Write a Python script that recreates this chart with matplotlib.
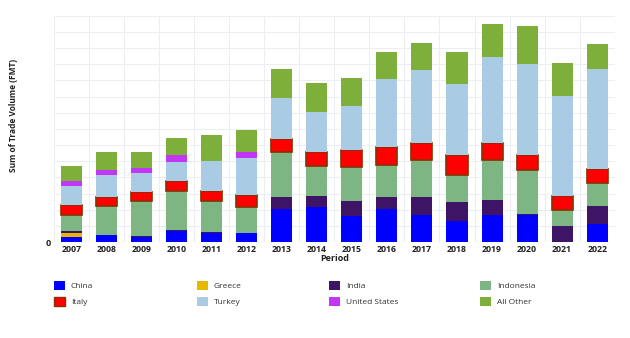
import numpy as np
import matplotlib.pyplot as plt
from matplotlib.patches import Patch

plt.rcParams['font.family'] = ['Open Sans', 'DejaVu Sans']

years = [str(y) for y in range(2007, 2023)]

china = [2.9, 4.1, 3.1, 7.0, 5.6, 5.4, 20.6, 21.6, 16.3, 20.6, 16.7, 12.8, 16.9, 16.9, 0.0, 11.3]
greece = [2.7, 0, 0, 0, 0, 0, 0, 0, 0, 0, 0, 0, 0, 0, 0, 0]
india = [1.0, 0.4, 0.5, 0.3, 0.4, 0.3, 7.2, 6.6, 8.9, 7.2, 10.9, 11.8, 9.1, 0.5, 10.1, 11.1]
indonesia = [10.3, 18.0, 21.6, 24.0, 19.2, 16.1, 28.2, 18.6, 21.0, 19.6, 22.9, 16.7, 24.7, 27.4, 9.9, 14.0]
italy = [6.2, 5.6, 6.0, 6.2, 6.4, 7.2, 7.8, 8.9, 10.5, 11.3, 11.1, 12.4, 10.5, 9.3, 8.2, 8.9]
turkey = [11.3, 13.4, 11.5, 12.2, 18.4, 22.9, 25.2, 24.5, 27.2, 42.3, 44.7, 44.3, 53.2, 55.9, 61.9, 61.6]
united_states = [3.1, 3.1, 3.3, 4.1, 0, 3.9, 0, 0, 0, 0, 0, 0, 0, 0, 0, 0]
all_other = [9.3, 11.1, 9.7, 10.3, 16.3, 13.4, 18.1, 18.1, 17.5, 16.9, 17.1, 19.4, 20.4, 23.5, 21.0, 15.5]

names = ['China', 'Greece', 'India', 'Indonesia', 'Italy', 'Turkey', 'United States', 'All Other']
series = [china, greece, india, indonesia, italy, turkey, united_states, all_other]
colors = ['#0000FF', '#E8B800', '#3D1466', '#7DB583', '#FF0000', '#A9CCE4', '#C236F5', '#7DAF3A']
edges = [None, None, None, None, '#8A3000', None, None, None]

fig = plt.figure(figsize=(6.3, 3.38), dpi=100)
ax = fig.add_axes([0.0857, 0.284, 0.890, 0.669])

x = np.arange(len(years))
bottom = np.zeros(len(years))
handles = []
for name, vals, col, ec in zip(names, series, colors, edges):
    vals = np.array(vals, dtype=float)
    if ec:
        ax.bar(x, vals, 0.6, bottom=bottom, color=col, edgecolor=ec, linewidth=1.2, zorder=3)
    else:
        ax.bar(x, vals, 0.6, bottom=bottom, color=col, linewidth=0, zorder=3)
    bottom += vals
    handles.append(Patch(facecolor=col, edgecolor=ec if ec else col, linewidth=1.0 if ec else 0))

ax.set_xlim(-0.5, len(years) - 0.5)
ax.set_ylim(0, 140)
ax.set_yticks(np.arange(0, 141, 10))
ax.set_yticklabels(['0'] + [''] * 14, fontsize=6.5, fontweight='bold')
ax.set_xticks(x)
ax.set_xticklabels(years, fontsize=6.3, fontweight='bold')
ax.set_xticks(np.arange(-0.5, len(years), 1), minor=True)
ax.tick_params(axis='both', which='both', length=0, pad=2.5, colors='#222222')
ax.grid(axis='y', color='#ECEEF3', linewidth=0.8, zorder=0)
ax.grid(axis='x', which='minor', color='#ECEEF3', linewidth=0.8, zorder=0)
for s in ax.spines.values():
    s.set_visible(False)

ax.set_xlabel('Period', fontsize=6.5, fontweight='bold', labelpad=0, color='#222222')
fig.text(0.021, 0.657, 'Sum of Trade Volume (FMT)', rotation=90, fontsize=6,
         fontweight='bold', ha='center', va='center', color='#222222')

# legend: four columns placed at their own x positions
col_x = [54 / 630, 197 / 630, 329 / 630, 480 / 630]
for i, cx in enumerate(col_x):
    leg = fig.legend([handles[i], handles[i + 4]], [names[i], names[i + 4]],
                     loc='upper left', bbox_to_anchor=(cx, 1 - 281 / 338), frameon=False,
                     fontsize=6, handlelength=1.3, handleheight=1.3,
                     labelspacing=0.75, handletextpad=0.7, borderpad=0, borderaxespad=0)
    for t in leg.get_texts():
        t.set_color('#333333')

plt.savefig('out.png', dpi=100)
